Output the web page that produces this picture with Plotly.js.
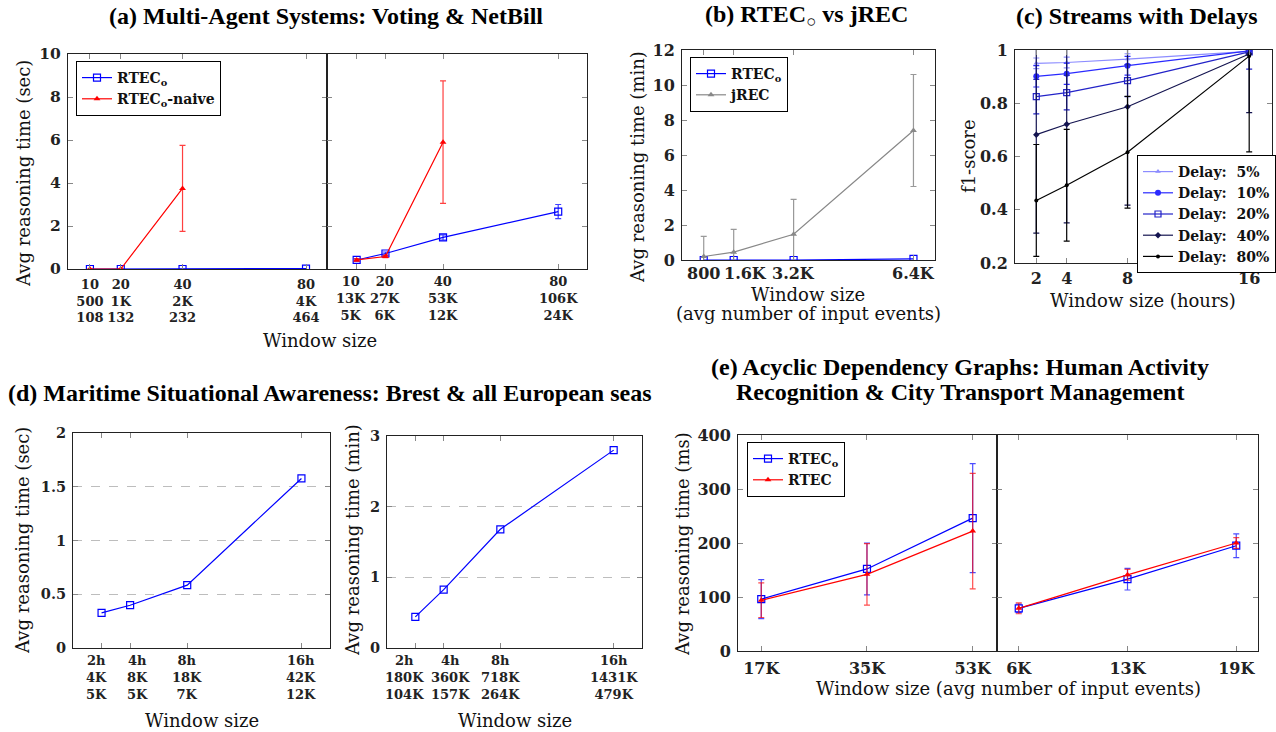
<!DOCTYPE html>
<html><head><meta charset="utf-8">
<script src="https://cdn.plot.ly/plotly-3.0.1.min.js"></script>
<style>html,body{margin:0;padding:0;background:#fff;} #chart{width:1276px;height:732px;}</style>
</head><body><div id="chart"></div>
<script>
// ---------- DATA ----------
// (a) Multi-Agent Systems
const a_x = [10, 20, 40, 80];
const a_naive_x = [10, 20, 40];
const a_voting_labels = ['10<br>500<br>108', '20<br>1K<br>132', '40<br>2K<br>232', '80<br>4K<br>464'];
const a_netbill_labels = ['10<br>13K<br>5K', '20<br>27K<br>6K', '40<br>53K<br>12K', '80<br>106K<br>24K'];
const a_voting_rteco = [0, 0, 0, 0.02];
const a_voting_naive = [0, 0, 3.75];
const a_voting_naive_err = [0, 0, 2.0];
const a_netbill_rteco = [0.42, 0.72, 1.47, 2.67];
const a_netbill_rteco_err = [0.05, 0.07, 0.12, 0.33];
const a_netbill_naive = [0.42, 0.58, 5.9];
const a_netbill_naive_err = [0.05, 0.05, 2.85];
// (b) RTECo vs jREC
const b_x = [800, 1600, 3200, 6400];
const b_labels = ['800', '1.6K', '3.2K', '6.4K'];
const b_rteco = [0, 0, 0, 0.06];
const b_jrec = [0.2, 0.45, 1.47, 7.4];
const b_jrec_err = [1.15, 1.3, 2.0, 3.2];
// (c) Streams with delays
const c_x = [2, 4, 8, 16];
const c_names = ['Delay:  5%', 'Delay:  10%', 'Delay:  20%', 'Delay:  40%', 'Delay:  80%'];
const c_d5 = [0.950, 0.953, 0.966, 0.995];
const c_d5_err = [0.02, 0.02, 0.02, 0.01];
const c_d10 = [0.901, 0.911, 0.941, 0.997];
const c_d10_err = [0.04, 0.04, 0.035, 0.01];
const c_d20 = [0.825, 0.840, 0.885, 0.993];
const c_d20_err = [0.065, 0.065, 0.06, 0.065];
const c_d40 = [0.682, 0.721, 0.787, 0.985];
const c_d40_err = [0.37, 0.37, 0.37, 0.22];
const c_d80 = [0.435, 0.492, 0.616, 0.977];
const c_d80_err = [0.21, 0.21, 0.21, 0.36];
// (d) Maritime
const d_x = [2, 4, 8, 16];
const d_brest_labels = ['2h<br>4K<br>5K', '4h<br>8K<br>5K', '8h<br>18K<br>7K', '16h<br>42K<br>12K'];
const d_brest = [0.327, 0.398, 0.585, 1.577];
const d_eu_labels = ['2h<br>180K<br>104K', '4h<br>360K<br>157K', '8h<br>718K<br>264K', '16h<br>1431K<br>479K'];
const d_eu = [0.44, 0.826, 1.68, 2.80];
// (e) Acyclic dependency graphs
const e_har_x = ['17K', '35K', '53K'];
const e_har_rteco = [96, 152, 246];
const e_har_rteco_err = [36, 48, 101];
const e_har_rtec = [94, 142, 222];
const e_har_rtec_err = [32, 57, 107];
const e_ctm_x = ['6K', '13K', '19K'];
const e_ctm_rteco = [79, 133, 195];
const e_ctm_rteco_err = [8, 20, 22];
const e_ctm_rtec = [79, 141, 200];
const e_ctm_rtec_err = [10, 10, 10];

// ---------- LAYOUT HELPERS ----------
const W = 1276, H = 732;
const dx = (l, r) => [l / W, r / W];
const dy = (t, b) => [1 - b / H, 1 - t / H];
const SERIF = 'DejaVu Serif';
const TITLE = 'Liberation Serif';
const tickF = (s) => ({family: SERIF, size: s, weight: 'bold', color: '#222'});
function ax(extra) {
  return Object.assign({
    showline: true, linecolor: '#222', linewidth: 1, mirror: 'ticks',
    ticks: 'inside', ticklen: 5, tickcolor: '#888', showgrid: false, zeroline: false,
    tickfont: tickF(15.5), tickangle: 0,
    ticklabelstandoff: 3, fixedrange: true
  }, extra);
}
const BLUE = '#0000ff', RED = '#ff0000', GRAY = '#888888';
const errB = (arr, c) => ({type: 'data', array: arr, visible: true, color: c, thickness: 1.2, width: 3});
const rtecoMarker = {symbol: 'square-open', size: 7, color: BLUE, line: {width: 1.2}};
const triMarker = (c) => ({symbol: 'triangle-up', size: 6, color: c});

const traces = [];
// (a) left: Voting
traces.push({x: a_x, y: a_voting_rteco, xaxis: 'x', yaxis: 'y', mode: 'lines+markers', name: 'RTEC<sub>o</sub>',
  line: {color: BLUE, width: 1.2}, marker: rtecoMarker, legend: 'legend'});
traces.push({x: a_naive_x, y: a_voting_naive, xaxis: 'x', yaxis: 'y', mode: 'lines+markers', name: 'RTEC<sub>o</sub>-naive',
  line: {color: RED, width: 1.2}, marker: triMarker(RED), error_y: errB(a_voting_naive_err, 'rgba(255,0,0,0.75)'), legend: 'legend'});
// (a) right: NetBill
traces.push({x: a_x, y: a_netbill_rteco, xaxis: 'x2', yaxis: 'y2', mode: 'lines+markers', showlegend: false,
  line: {color: BLUE, width: 1.2}, marker: rtecoMarker, error_y: errB(a_netbill_rteco_err, 'rgba(0,0,255,0.75)')});
traces.push({x: a_naive_x, y: a_netbill_naive, xaxis: 'x2', yaxis: 'y2', mode: 'lines+markers', showlegend: false,
  line: {color: RED, width: 1.2}, marker: triMarker(RED), error_y: errB(a_netbill_naive_err, 'rgba(255,0,0,0.75)')});
// (b)
traces.push({x: b_x, y: b_rteco, xaxis: 'x3', yaxis: 'y3', mode: 'lines+markers', name: 'RTEC<sub>o</sub>',
  line: {color: BLUE, width: 1.2}, marker: rtecoMarker, legend: 'legend2'});
traces.push({x: b_x, y: b_jrec, xaxis: 'x3', yaxis: 'y3', mode: 'lines+markers', name: 'jREC',
  line: {color: GRAY, width: 1.2}, marker: triMarker(GRAY), error_y: errB(b_jrec_err, 'rgba(128,128,128,0.8)'), legend: 'legend2'});
// (c)
const c_series = [c_d5, c_d10, c_d20, c_d40, c_d80];
const c_errs = [c_d5_err, c_d10_err, c_d20_err, c_d40_err, c_d80_err];
const c_colors = ['#8c8cff', '#2a2aff', '#2323c8', '#141450', '#000000'];
const c_markers = [
  {symbol: 'triangle-up', size: 5},
  {symbol: 'circle', size: 6},
  {symbol: 'square-open', size: 6, line: {width: 1.2}},
  {symbol: 'diamond', size: 5},
  {symbol: 'circle', size: 4}
];
c_series.forEach((s, i) => {
  traces.push({x: c_x, y: s, xaxis: 'x4', yaxis: 'y4', mode: 'lines+markers', name: c_names[i],
    line: {color: c_colors[i], width: 1.2}, marker: Object.assign({color: c_colors[i]}, c_markers[i]),
    error_y: errB(c_errs[i], c_colors[i]), legend: 'legend3'});
});
// (d)
traces.push({x: d_x, y: d_brest, xaxis: 'x5', yaxis: 'y5', mode: 'lines+markers', showlegend: false,
  line: {color: BLUE, width: 1.2}, marker: rtecoMarker});
traces.push({x: d_x, y: d_eu, xaxis: 'x6', yaxis: 'y6', mode: 'lines+markers', showlegend: false,
  line: {color: BLUE, width: 1.2}, marker: rtecoMarker});
// (e)
traces.push({x: e_har_x, y: e_har_rteco, xaxis: 'x7', yaxis: 'y7', mode: 'lines+markers', name: 'RTEC<sub>o</sub>',
  line: {color: BLUE, width: 1.2}, marker: rtecoMarker, error_y: errB(e_har_rteco_err, 'rgba(0,0,255,0.7)'), legend: 'legend4'});
traces.push({x: e_har_x, y: e_har_rtec, xaxis: 'x7', yaxis: 'y7', mode: 'lines+markers', name: 'RTEC',
  line: {color: RED, width: 1.2}, marker: triMarker(RED), error_y: errB(e_har_rtec_err, 'rgba(255,0,0,0.7)'), legend: 'legend4'});
traces.push({x: e_ctm_x, y: e_ctm_rteco, xaxis: 'x8', yaxis: 'y8', mode: 'lines+markers', showlegend: false,
  line: {color: BLUE, width: 1.2}, marker: rtecoMarker, error_y: errB(e_ctm_rteco_err, 'rgba(0,0,255,0.7)')});
traces.push({x: e_ctm_x, y: e_ctm_rtec, xaxis: 'x8', yaxis: 'y8', mode: 'lines+markers', showlegend: false,
  line: {color: RED, width: 1.2}, marker: triMarker(RED), error_y: errB(e_ctm_rtec_err, 'rgba(255,0,0,0.7)')});

const smallTick = tickF(13);
const bigTick = tickF(16);
const gridDash = {showgrid: true, gridcolor: '#bdbdbd', griddash: 'dash', gridwidth: 1};

const layout = {
  width: W, height: H, margin: {l: 0, r: 0, t: 0, b: 0},
  paper_bgcolor: '#fff', plot_bgcolor: '#fff', showlegend: true,
  xaxis: ax({domain: dx(68, 327), anchor: 'y', range: [2.9, 86.8], tickvals: a_x, ticktext: a_voting_labels, tickfont: smallTick}),
  yaxis: ax({domain: dy(54, 269), anchor: 'x', range: [0, 10], tickvals: [0, 2, 4, 6, 8, 10]}),
  xaxis2: ax({domain: dx(327, 587), anchor: 'y2', range: [-0.3, 90], tickvals: a_x, showticklabels: false}),
  yaxis2: ax({domain: dy(54, 269), anchor: 'x2', range: [0, 10], tickvals: [0, 2, 4, 6, 8, 10], showticklabels: false}),
  xaxis3: ax({domain: dx(682, 935), anchor: 'y3', range: [220, 6975], tickvals: b_x, showticklabels: false}),
  yaxis3: ax({domain: dy(50, 260), anchor: 'x3', range: [0, 12], tickvals: [0, 2, 4, 6, 8, 10, 12], tickfont: bigTick}),
  xaxis4: ax({domain: dx(1015, 1272), anchor: 'y4', range: [0.6, 17.5], tickvals: c_x, tickfont: bigTick, ticklabelstandoff: 1}),
  yaxis4: ax({domain: dy(50, 263), anchor: 'x4', range: [0.2, 1], tickvals: [0.2, 0.4, 0.6, 0.8, 1], ticktext: ['0.2', '0.4', '0.6', '0.8', '1'], tickfont: bigTick}),
  xaxis5: ax({domain: dx(73, 330), anchor: 'y5', range: [0, 18], tickvals: d_x, showticklabels: false}),
  yaxis5: ax(Object.assign({domain: dy(433, 648), anchor: 'x5', range: [0, 2], tickvals: [0, 0.5, 1, 1.5, 2], ticktext: ['0', '0.5', '1', '1.5', '2'], tickfont: tickF(14.5)}, gridDash)),
  xaxis6: ax({domain: dx(387, 642), anchor: 'y6', range: [0, 18], tickvals: d_x, showticklabels: false}),
  yaxis6: ax(Object.assign({domain: dy(436, 648), anchor: 'x6', range: [0, 3], tickvals: [0, 1, 2, 3], tickfont: tickF(14.5)}, gridDash)),
  xaxis7: ax({domain: dx(738, 997), anchor: 'y7', type: 'category', range: [-0.22, 2.23], tickfont: bigTick}),
  yaxis7: ax({domain: dy(435, 651), anchor: 'x7', range: [0, 400], tickvals: [0, 100, 200, 300, 400], tickfont: bigTick}),
  xaxis8: ax({domain: dx(997, 1258), anchor: 'y8', type: 'category', range: [-0.2, 2.2], tickfont: bigTick}),
  yaxis8: ax({domain: dy(435, 651), anchor: 'x8', range: [0, 400], tickvals: [0, 100, 200, 300, 400], showticklabels: false}),
  legend: {x: 76 / W, y: 1 - 61 / H, xanchor: 'left', yanchor: 'top', bgcolor: '#fff', bordercolor: '#000', borderwidth: 1,
    font: {family: SERIF, size: 14, weight: 'bold', color: '#111'}, itemwidth: 30, tracegroupgap: 0},
  legend2: {x: 690 / W, y: 1 - 57 / H, xanchor: 'left', yanchor: 'top', bgcolor: '#fff', bordercolor: '#000', borderwidth: 1,
    font: {family: SERIF, size: 14, weight: 'bold', color: '#111'}, itemwidth: 30, tracegroupgap: 0},
  legend3: {x: 1137 / W, y: 1 - 155 / H, xanchor: 'left', yanchor: 'top', bgcolor: '#fff', bordercolor: '#000', borderwidth: 1,
    font: {family: SERIF, size: 14, weight: 'bold', color: '#111'}, itemwidth: 30, tracegroupgap: 0},
  legend4: {x: 747 / W, y: 1 - 442 / H, xanchor: 'left', yanchor: 'top', bgcolor: '#fff', bordercolor: '#000', borderwidth: 1,
    font: {family: SERIF, size: 14, weight: 'bold', color: '#111'}, itemwidth: 30, tracegroupgap: 0},
  annotations: []
};

function note(text, px, py, opts) {
  layout.annotations.push(Object.assign({
    text: text, xref: 'paper', yref: 'paper', x: px / W, y: 1 - py / H,
    xanchor: 'center', yanchor: 'middle', showarrow: false,
    font: {family: SERIF, size: 18, color: '#111'}
  }, opts || {}));
}
// tick labels placed at the axis values (pgfplots nudges the crowded ones apart)
function tickNotes(axis, vals, labels, shifts, pyTop, font) {
  vals.forEach((v, i) => {
    layout.annotations.push({
      text: labels[i], xref: axis, yref: 'paper', x: v, y: 1 - pyTop / H,
      xanchor: 'center', yanchor: 'top', xshift: shifts[i], showarrow: false,
      align: 'center', font: font
    });
  });
}
tickNotes('x2', a_x, a_netbill_labels, [-6, 0, 0, 0], 272, smallTick);
tickNotes('x3', b_x, b_labels, [0, 12, 0, 0], 262, bigTick);
tickNotes('x5', d_x, d_brest_labels, [-5, 7, 0, 0], 651, smallTick);
tickNotes('x6', d_x, d_eu_labels, [-11, 7, 0, 0], 651, smallTick);

const titleFont = {family: TITLE, size: 24, weight: 'bold', color: '#000'};
note('(a) Multi-Agent Systems: Voting &amp; NetBill', 326, 16, {font: titleFont});
note('(b) RTEC<sub>○</sub> vs jREC', 806, 16, {font: titleFont});
note('(c) Streams with Delays', 1137, 16, {font: titleFont});
note('(d) Maritime Situational Awareness: Brest &amp; all European seas', 330, 393, {font: titleFont});
note('(e) Acyclic Dependency Graphs: Human Activity', 960, 367, {font: titleFont});
note('Recognition &amp; City Transport Management', 960, 392, {font: titleFont});

note('Avg reasoning time (sec)', 24, 174, {textangle: -90});
note('Window size', 320, 340);
note('Avg reasoning time (min)', 638, 167, {textangle: -90});
note('Window size', 808, 295);
note('(avg number of input events)', 808, 313);
note('f1-score', 968, 156, {textangle: -90});
note('Window size (hours)', 1143, 300);
note('Avg reasoning time (sec)', 22, 541, {textangle: -90});
note('Window size', 202, 720);
note('Avg reasoning time (min)', 352, 540, {textangle: -90});
note('Window size', 515, 720);
note('Avg reasoning time (ms)', 682, 544, {textangle: -90});
note('Window size (avg number of input events)', 1008, 688);

Plotly.newPlot('chart', traces, layout, {staticPlot: true, displayModeBar: false});
</script></body></html>
